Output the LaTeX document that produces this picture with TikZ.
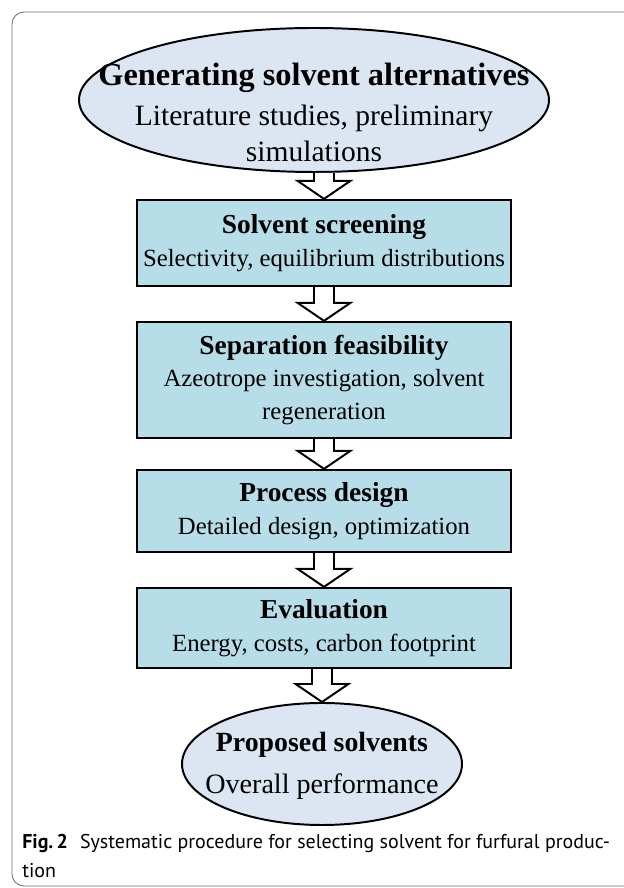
\documentclass[tikz,border=0pt]{standalone}
\usepackage{fontspec}
\setmainfont{Liberation Serif}
\setsansfont{PT Sans}
\usepackage{tikz}
\usetikzlibrary{calc, shapes.geometric}
\definecolor{ellBlue}{RGB}{220,230,242}
\definecolor{boxBlue}{RGB}{183,222,232}
\definecolor{frameGray}{RGB}{110,110,110}
\tikzset{
  stagebox/.style={draw, line width=1.6pt, fill=boxBlue, minimum width=9.35cm, align=center, inner sep=0pt,
                   font=\fontsize{17.6}{23.4}\selectfont},
  endellipse/.style={ellipse, draw, line width=1.4pt, fill=ellBlue, inner sep=0pt},
  ellipsetext/.style={align=center, inner sep=0pt},
  blockarrow/.style={draw, fill=white, line width=1.4pt, line join=miter}
}
\newcommand{\flowarrow}[2]{%
  \filldraw[blockarrow] ($(#1.south -| #2.north)+(-0.25,0)$) -- ($(#2.north)+(-0.25,0.45)$)
    -- ($(#2.north)+(-0.66,0.45)$) -- (#2.north) -- ($(#2.north)+(0.66,0.45)$)
    -- ($(#2.north)+(0.25,0.45)$) -- ($(#1.south -| #2.north)+(0.25,0)$);}
\newcommand{\ttl}[1]{{\fontsize{19.5}{23}\selectfont\bfseries #1}}

\begin{document}
\begin{tikzpicture}
  \useasboundingbox (0,0) rectangle (15.6,22.2);
  \draw [frameGray, line width=0.6pt, rounded corners=0.3cm] (0.3,0.05) rectangle (16.5,21.9);

  % stages
  \node [endellipse, minimum width=11.75cm, minimum height=3.6cm] (gen) at (7.85,19.7) {};
  \node [ellipsetext, font=\fontsize{21}{25}\selectfont] (gentxt) at ($(gen.center)+(0,-0.3)$)
        {{\fontsize{23}{27}\selectfont\bfseries Generating solvent alternatives}\\[4pt]
         Literature studies, preliminary\\ simulations};
  \node [stagebox, minimum height=2.15cm] (screen) at (8.1,16.125)
        {\ttl{Solvent screening}\\ Selectivity, equilibrium distributions};
  \node [stagebox, minimum height=2.9cm] (separ) at (8.1,12.7)
        {\ttl{Separation feasibility}\\ Azeotrope investigation, solvent\\ regeneration};
  \node [stagebox, minimum height=2.05cm] (design) at (8.1,9.425)
        {\ttl{Process design}\\ Detailed design, optimization};
  \node [stagebox, minimum height=2.0cm] (evalu) at (8.1,6.5)
        {\ttl{Evaluation}\\ Energy, costs, carbon footprint};
  \node [endellipse, minimum width=7.0cm, minimum height=3.05cm] (proposed) at (8.05,3.1) {};
  \node [ellipsetext, font=\fontsize{20}{25}\selectfont] (proptxt) at ($(proposed.center)+(0,-0.05)$)
        {{\fontsize{19.8}{25}\selectfont\bfseries Proposed solvents}\\[5pt] Overall performance};

  % arrows between stages
  \flowarrow{gen}{screen}
  \flowarrow{screen}{separ}
  \flowarrow{separ}{design}
  \flowarrow{design}{evalu}
  \flowarrow{evalu}{proposed}

  % caption
  \node [anchor=base west, inner sep=0pt, font=\sffamily\fontsize{14.2}{16}\selectfont] (cap1) at (0.55,0.975)
        {\textbf{Fig.\,2}\hspace{0.6em}Systematic procedure for selecting solvent for furfural produc-};
  \node [anchor=base west, inner sep=0pt, font=\sffamily\fontsize{14.2}{16}\selectfont] (cap2) at (0.55,0.25)
        {tion};
\end{tikzpicture}
\end{document}
